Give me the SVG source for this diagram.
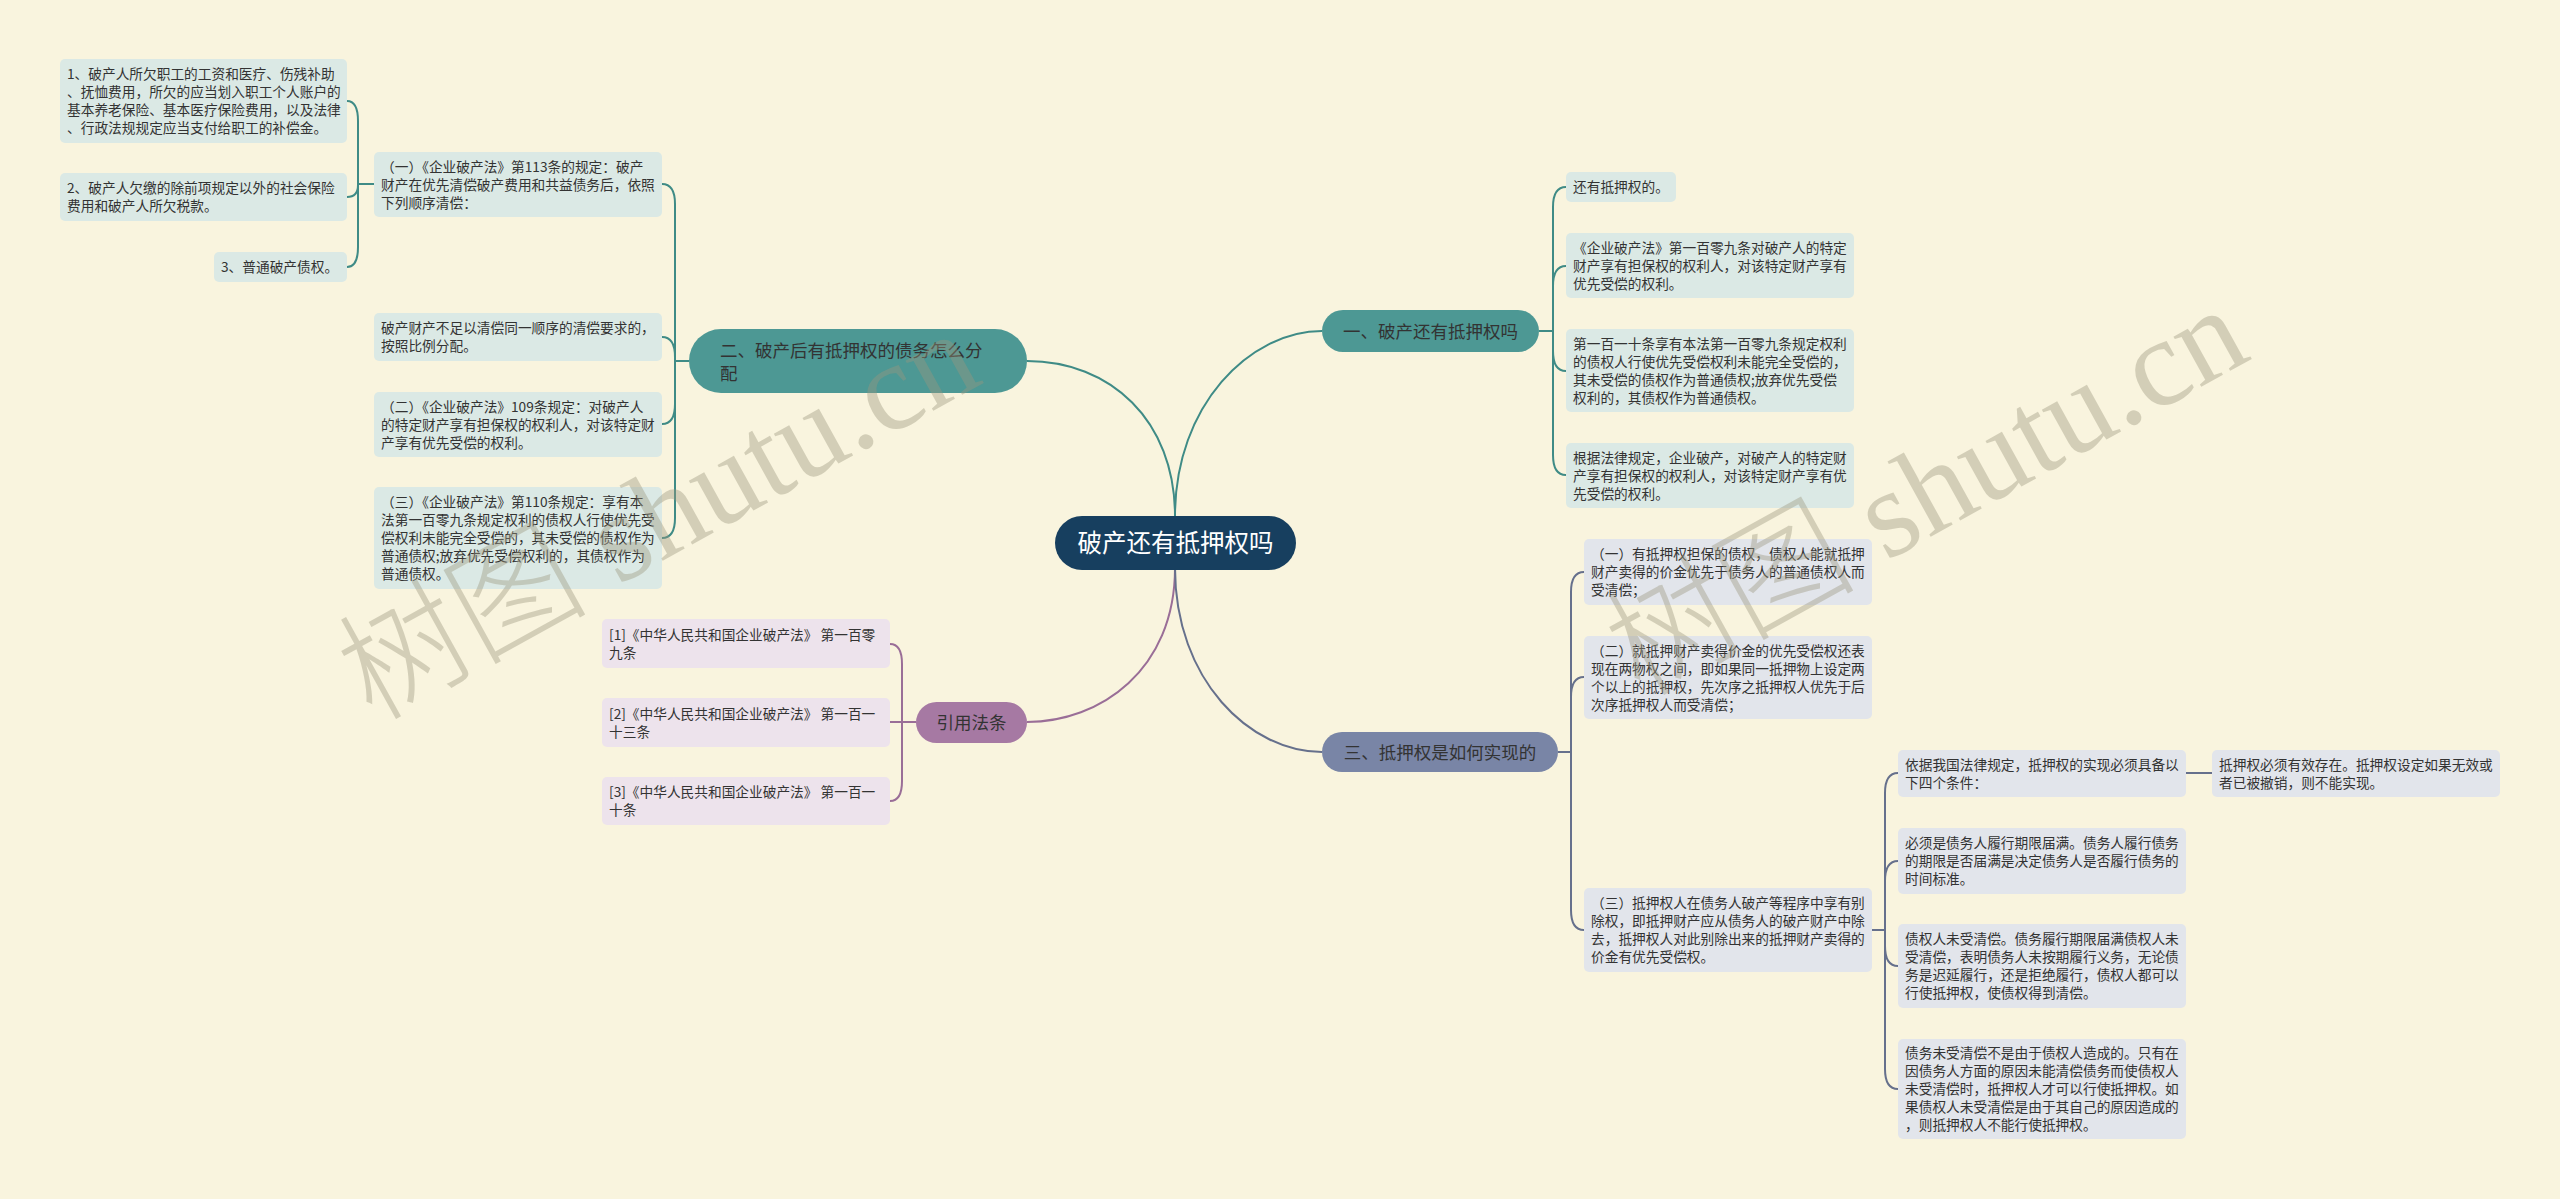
<svg xmlns="http://www.w3.org/2000/svg" width="2560" height="1199" viewBox="0 0 2560 1199">
<style>
.t{font-family:"Noto Sans CJK SC","Liberation Sans",sans-serif;font-size:13.7px;fill:#333333}
.bt{font-family:"Noto Sans CJK SC","Liberation Sans",sans-serif;font-size:17.5px;fill:#333333}
.ct{font-family:"Noto Sans CJK SC","Liberation Sans",sans-serif;font-size:24.5px;fill:#ffffff}
.bxT{fill:#dbe9e5}
.bxP{fill:#ede3ec}
.bxS{fill:#e2e5eb}
.lT{fill:none;stroke:#3f8b86;stroke-width:2}
.lP{fill:none;stroke:#9a6e97;stroke-width:2}
.lS{fill:none;stroke:#66708c;stroke-width:2}
.wm{font-family:"Liberation Serif","Noto Sans CJK SC",serif;font-size:125px;font-weight:300;fill:#9c977e;opacity:0.4}
</style>
<rect x="0" y="0" width="2560" height="1199" fill="#f9f4de"/>

<g id="connectors">
<path class="lT" stroke-width="2.5" d="M1175 516 C1175 405 1250 331 1322 331"/>
<path class="lT" stroke-width="2.5" d="M1175 516 C1175 420 1110 361 1027 361"/>
<path class="lP" stroke-width="2.5" d="M1175 568 C1175 670 1100 722 1027 722"/>
<path class="lS" stroke-width="2.5" d="M1175 568 C1175 680 1250 752 1322 752"/>
<path class="lT" d="M1539 331 L1553 331"/>
<path class="lT" d="M1553 331 L1553 207 C1553 195 1556 187 1566 187"/>
<path class="lT" d="M1553 331 L1553 286 C1553 274 1556 266 1566 266"/>
<path class="lT" d="M1553 331 L1553 351 C1553 363 1556 371 1566 371"/>
<path class="lT" d="M1553 331 L1553 455 C1553 467 1556 475 1566 475"/>
<path class="lT" d="M689 361 L675 361"/>
<path class="lT" d="M675 361 L675 204 C675 192 672 184 662 184"/>
<path class="lT" d="M675 361 L675 357 C675 345 672 337 662 337"/>
<path class="lT" d="M675 361 L675 404 C675 416 672 424 662 424"/>
<path class="lT" d="M675 361 L675 518 C675 530 672 538 662 538"/>
<path class="lT" d="M374 184 L358 184"/>
<path class="lT" d="M358 184 L358 121 C358 109 355 101 347 101"/>
<path class="lT" d="M358 184 L358 185 C358 193 355 197 347 197"/>
<path class="lT" d="M358 184 L358 247 C358 259 355 267 347 267"/>
<path class="lP" d="M916 722 L902 722"/>
<path class="lP" d="M902 722 L902 664 C902 652 899 644 890 644"/>
<path class="lP" d="M902 722 L890 722"/>
<path class="lP" d="M902 722 L902 781 C902 793 899 801 890 801"/>
<path class="lS" d="M1558 752 L1571 752"/>
<path class="lS" d="M1571 752 L1571 592 C1571 580 1574 572 1584 572"/>
<path class="lS" d="M1571 752 L1571 697 C1571 685 1574 677 1584 677"/>
<path class="lS" d="M1571 752 L1571 910 C1571 922 1574 930 1584 930"/>
<path class="lS" d="M1872 930 L1885 930"/>
<path class="lS" d="M1885 930 L1885 793 C1885 781 1888 773 1898 773"/>
<path class="lS" d="M1885 930 L1885 881 C1885 869 1888 861 1898 861"/>
<path class="lS" d="M1885 930 L1885 946 C1885 958 1888 966 1898 966"/>
<path class="lS" d="M1885 930 L1885 1069 C1885 1081 1888 1089 1898 1089"/>
<path class="lS" d="M2186 773 L2212 773"/>
</g>

<g id="center">
<rect x="1055" y="516" width="241" height="54" rx="27" fill="#173f5f"/>
<text class="ct" x="1175.5" y="552" text-anchor="middle">破产还有抵押权吗</text>
</g>

<g id="b1">
<rect x="1322" y="310" width="217" height="42" rx="21" fill="#4d9894"/>
<text class="bt" x="1430.5" y="337.5" text-anchor="middle">一、破产还有抵押权吗</text>
</g>
<g id="b2">
<rect x="689" y="329" width="338" height="64" rx="32" fill="#4d9894"/>
<text class="bt" x="720" y="356.5">二、破产后有抵押权的债务怎么分</text>
<text class="bt" x="720" y="379.5">配</text>
</g>
<g id="b3">
<rect x="916" y="702" width="111" height="41" rx="20.5" fill="#a679a3"/>
<text class="bt" x="971.5" y="729" text-anchor="middle">引用法条</text>
</g>
<g id="b4">
<rect x="1322" y="732" width="236" height="40" rx="20" fill="#7985a6"/>
<text class="bt" x="1440" y="758.5" text-anchor="middle">三、抵押权是如何实现的</text>
</g>

<g id="l1">
<rect class="bxT" x="60" y="59" width="287" height="84" rx="5"/>
<text class="t" x="67" y="79">1、破产人所欠职工的工资和医疗、伤残补助</text>
<text class="t" x="67" y="97">、抚恤费用，所欠的应当划入职工个人账户的</text>
<text class="t" x="67" y="115">基本养老保险、基本医疗保险费用，以及法律</text>
<text class="t" x="67" y="133">、行政法规规定应当支付给职工的补偿金。</text>
</g>
<g id="l2">
<rect class="bxT" x="60" y="173" width="287" height="48" rx="5"/>
<text class="t" x="67" y="193">2、破产人欠缴的除前项规定以外的社会保险</text>
<text class="t" x="67" y="211">费用和破产人所欠税款。</text>
</g>
<g id="l3">
<rect class="bxT" x="214" y="252" width="133" height="30" rx="5"/>
<text class="t" x="221" y="272">3、普通破产债权。</text>
</g>
<g id="p1">
<rect class="bxT" x="374" y="152" width="288" height="65" rx="5"/>
<text class="t" x="381" y="171.5">（一）《企业破产法》第113条的规定：破产</text>
<text class="t" x="381" y="189.5">财产在优先清偿破产费用和共益债务后，依照</text>
<text class="t" x="381" y="207.5">下列顺序清偿：</text>
</g>
<g id="l4">
<rect class="bxT" x="374" y="313" width="288" height="48" rx="5"/>
<text class="t" x="381" y="333">破产财产不足以清偿同一顺序的清偿要求的，</text>
<text class="t" x="381" y="351">按照比例分配。</text>
</g>
<g id="l5">
<rect class="bxT" x="374" y="392" width="288" height="65" rx="5"/>
<text class="t" x="381" y="411.5">（二）《企业破产法》109条规定：对破产人</text>
<text class="t" x="381" y="429.5">的特定财产享有担保权的权利人，对该特定财</text>
<text class="t" x="381" y="447.5">产享有优先受偿的权利。</text>
</g>
<g id="l6">
<rect class="bxT" x="374" y="487" width="288" height="102" rx="5"/>
<text class="t" x="381" y="507">（三）《企业破产法》第110条规定：享有本</text>
<text class="t" x="381" y="525">法第一百零九条规定权利的债权人行使优先受</text>
<text class="t" x="381" y="543">偿权利未能完全受偿的，其未受偿的债权作为</text>
<text class="t" x="381" y="561">普通债权;放弃优先受偿权利的，其债权作为</text>
<text class="t" x="381" y="579">普通债权。</text>
</g>

<g id="c1">
<rect class="bxP" x="602" y="619" width="288" height="49" rx="5"/>
<text class="t" x="609" y="639.5">[1]《中华人民共和国企业破产法》 第一百零</text>
<text class="t" x="609" y="657.5">九条</text>
</g>
<g id="c2">
<rect class="bxP" x="602" y="698" width="288" height="49" rx="5"/>
<text class="t" x="609" y="718.5">[2]《中华人民共和国企业破产法》 第一百一</text>
<text class="t" x="609" y="736.5">十三条</text>
</g>
<g id="c3">
<rect class="bxP" x="602" y="777" width="288" height="48" rx="5"/>
<text class="t" x="609" y="797">[3]《中华人民共和国企业破产法》 第一百一</text>
<text class="t" x="609" y="815">十条</text>
</g>

<g id="r1">
<rect class="bxT" x="1566" y="172" width="110" height="30" rx="5"/>
<text class="t" x="1573" y="192">还有抵押权的。</text>
</g>
<g id="r2">
<rect class="bxT" x="1566" y="233" width="288" height="65" rx="5"/>
<text class="t" x="1573" y="252.5">《企业破产法》第一百零九条对破产人的特定</text>
<text class="t" x="1573" y="270.5">财产享有担保权的权利人，对该特定财产享有</text>
<text class="t" x="1573" y="288.5">优先受偿的权利。</text>
</g>
<g id="r3">
<rect class="bxT" x="1566" y="329" width="288" height="83" rx="5"/>
<text class="t" x="1573" y="348.5">第一百一十条享有本法第一百零九条规定权利</text>
<text class="t" x="1573" y="366.5">的债权人行使优先受偿权利未能完全受偿的，</text>
<text class="t" x="1573" y="384.5">其未受偿的债权作为普通债权;放弃优先受偿</text>
<text class="t" x="1573" y="402.5">权利的，其债权作为普通债权。</text>
</g>
<g id="r4">
<rect class="bxT" x="1566" y="443" width="288" height="65" rx="5"/>
<text class="t" x="1573" y="462.5">根据法律规定，企业破产，对破产人的特定财</text>
<text class="t" x="1573" y="480.5">产享有担保权的权利人，对该特定财产享有优</text>
<text class="t" x="1573" y="498.5">先受偿的权利。</text>
</g>

<g id="s1">
<rect class="bxS" x="1584" y="539" width="288" height="66" rx="5"/>
<text class="t" x="1591" y="559">（一）有抵押权担保的债权，债权人能就抵押</text>
<text class="t" x="1591" y="577">财产卖得的价金优先于债务人的普通债权人而</text>
<text class="t" x="1591" y="595">受清偿；</text>
</g>
<g id="s2">
<rect class="bxS" x="1584" y="636" width="288" height="83" rx="5"/>
<text class="t" x="1591" y="655.5">（二）就抵押财产卖得价金的优先受偿权还表</text>
<text class="t" x="1591" y="673.5">现在两物权之间，即如果同一抵押物上设定两</text>
<text class="t" x="1591" y="691.5">个以上的抵押权，先次序之抵押权人优先于后</text>
<text class="t" x="1591" y="709.5">次序抵押权人而受清偿；</text>
</g>
<g id="s3">
<rect class="bxS" x="1584" y="888" width="288" height="84" rx="5"/>
<text class="t" x="1591" y="908">（三）抵押权人在债务人破产等程序中享有别</text>
<text class="t" x="1591" y="926">除权，即抵押财产应从债务人的破产财产中除</text>
<text class="t" x="1591" y="944">去，抵押权人对此别除出来的抵押财产卖得的</text>
<text class="t" x="1591" y="962">价金有优先受偿权。</text>
</g>
<g id="t1">
<rect class="bxS" x="1898" y="750" width="288" height="47" rx="5"/>
<text class="t" x="1905" y="769.5">依据我国法律规定，抵押权的实现必须具备以</text>
<text class="t" x="1905" y="787.5">下四个条件：</text>
</g>
<g id="t1b">
<rect class="bxS" x="2212" y="750" width="288" height="47" rx="5"/>
<text class="t" x="2219" y="769.5">抵押权必须有效存在。抵押权设定如果无效或</text>
<text class="t" x="2219" y="787.5">者已被撤销，则不能实现。</text>
</g>
<g id="t2">
<rect class="bxS" x="1898" y="828" width="288" height="66" rx="5"/>
<text class="t" x="1905" y="848">必须是债务人履行期限届满。债务人履行债务</text>
<text class="t" x="1905" y="866">的期限是否届满是决定债务人是否履行债务的</text>
<text class="t" x="1905" y="884">时间标准。</text>
</g>
<g id="t3">
<rect class="bxS" x="1898" y="924" width="288" height="84" rx="5"/>
<text class="t" x="1905" y="944">债权人未受清偿。债务履行期限届满债权人未</text>
<text class="t" x="1905" y="962">受清偿，表明债务人未按期履行义务，无论债</text>
<text class="t" x="1905" y="980">务是迟延履行，还是拒绝履行，债权人都可以</text>
<text class="t" x="1905" y="998">行使抵押权，使债权得到清偿。</text>
</g>
<g id="t4">
<rect class="bxS" x="1898" y="1039" width="288" height="100" rx="5"/>
<text class="t" x="1905" y="1058">债务未受清偿不是由于债权人造成的。只有在</text>
<text class="t" x="1905" y="1076">因债务人方面的原因未能清偿债务而使债权人</text>
<text class="t" x="1905" y="1094">未受清偿时，抵押权人才可以行使抵押权。如</text>
<text class="t" x="1905" y="1112">果债权人未受清偿是由于其自己的原因造成的</text>
<text class="t" x="1905" y="1130">，则抵押权人不能行使抵押权。</text>
</g>

<g id="watermark">
<text class="wm" transform="translate(372,722) rotate(-29)">树图 shutu.cn</text>
<text class="wm" transform="translate(1640,698) rotate(-29)">树图 shutu.cn</text>
</g>
</svg>
